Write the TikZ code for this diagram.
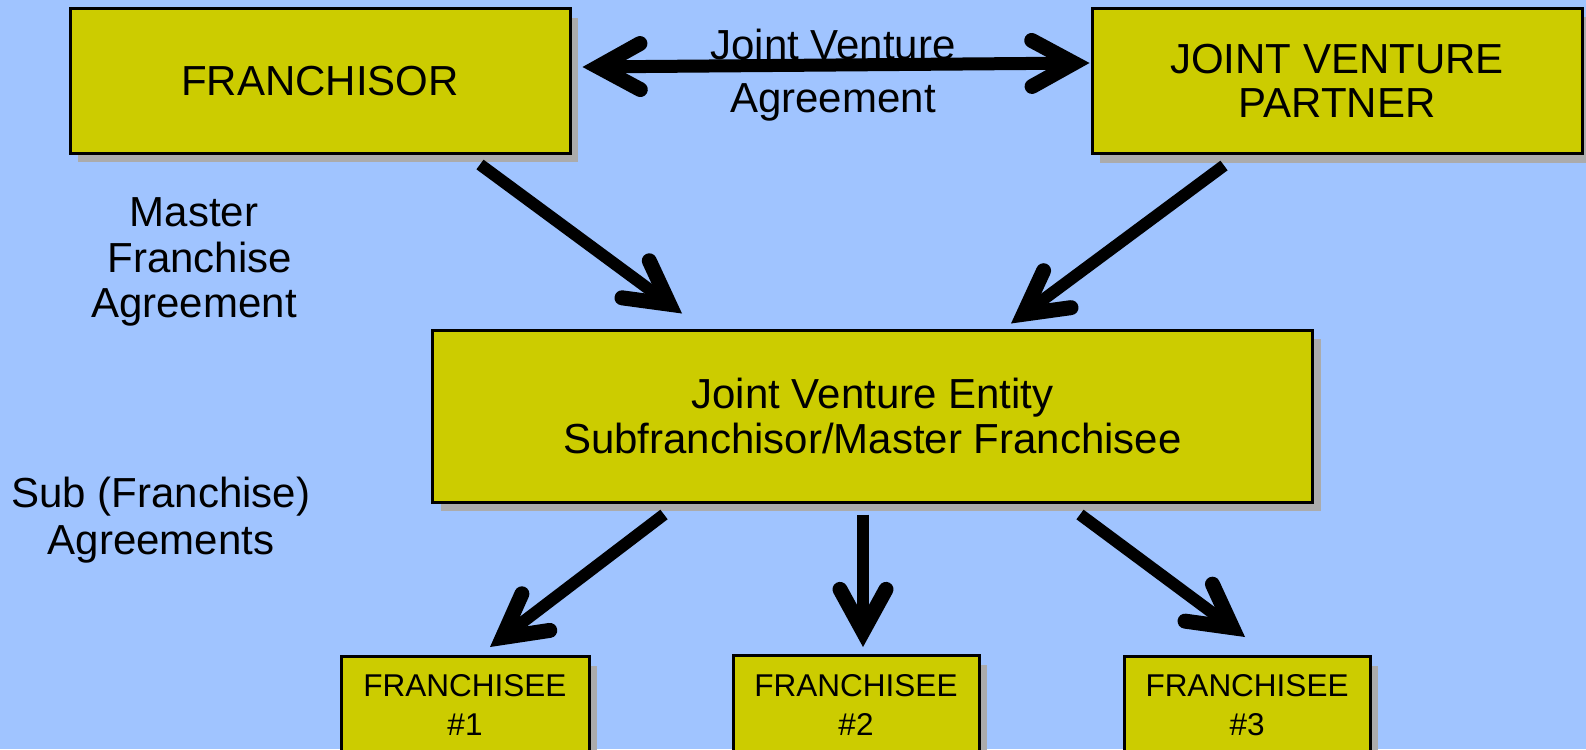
\documentclass[tikz,border=0pt]{standalone}
\usepackage{fontspec}
\setmainfont{Liberation Sans}
\usetikzlibrary{arrows.meta,shadows,calc}
\definecolor{bg}{HTML}{A0C4FF}
\definecolor{boxfill}{HTML}{CCCC00}
\definecolor{shade}{HTML}{ABABAB}
\begin{document}
\begin{tikzpicture}[x=1pt,y=-1pt,
  box/.style={draw=black, line width=3pt, fill=boxfill, inner sep=0pt, align=center,
    font=\fontsize{42}{44}\selectfont,
    drop shadow={shadow xshift=8pt, shadow yshift=-9pt, fill=shade, opacity=1}},
  lbl/.style={align=center, inner sep=0pt},
  tip/.tip={Straight Barb[length=42pt, width=46pt, line width=15pt, line cap=round, line join=miter]},
  arr/.style={line width=12pt, -tip},
  darr/.style={line width=13pt, tip-tip}]
\useasboundingbox (0,0) rectangle (1586,749);
\clip (0,0) rectangle (1586,749);
\fill[bg] (0,0) rectangle (1586,749);

% boxes
\node[box, minimum width=500pt, minimum height=144pt] (fr) at (320,81) {FRANCHISOR};
\node[box, minimum width=490pt, minimum height=145pt] (jv) at (1337,81) {JOINT VENTURE\\PARTNER};
\node[box, minimum width=880pt, minimum height=172pt, font=\fontsize{42}{45}\selectfont] (mid) at (872.5,416) {Joint Venture Entity\\Subfranchisor/Master Franchisee};
\node[box, minimum width=248pt, minimum height=140pt, anchor=north] (f1) at (465,655) {};
\node[box, minimum width=246pt, minimum height=140pt, anchor=north] (f2) at (856,654) {};
\node[box, minimum width=246pt, minimum height=140pt, anchor=north] (f3) at (1247,655) {};

% franchisee texts
\tikzset{ftext/.style={lbl, font=\fontsize{31.5}{39}\selectfont}}
\node[ftext] (t1) at ($(f1.north)+(0,50)$) {FRANCHISEE\\\#1};
\node[ftext] (t2) at ($(f2.north)+(0,51)$) {FRANCHISEE\\\#2};
\node[ftext] (t3) at ($(f3.north)+(0,50)$) {FRANCHISEE\\\#3};

% labels
\node[lbl, font=\fontsize{42}{53}\selectfont] (jva) at (833,75) {Joint Venture\\Agreement};
\node[lbl, font=\fontsize{42}{45.5}\selectfont] (mfa) at (194,262) {Master\\\hspace*{0.278em}Franchise\\Agreement};
\node[lbl, font=\fontsize{42}{47}\selectfont] (sfa) at (161,520) {Sub (Franchise)\\Agreements};

% connectors
\draw[darr] ($(fr.east)+(11,-14)$) -- ($(jv.west)+(-1,-18)$);
\draw[arr] ($(fr.south)+(160,10)$) -- ($(mid.north)+(-190.5,-15)$);
\draw[arr] ($(jv.south)+(-113,10.5)$) -- ($(mid.north)+(138.5,-5)$);
\draw[arr] ($(mid.south)+(-208.5,11)$) -- ($(f1.north)+(25,-8)$);
\draw[arr] ($(mid.south)+(-9.5,11)$) -- ($(f2.north)+(7,-7)$);
\draw[arr] ($(mid.south)+(207.5,11)$) -- ($(f3.north)+(-2,-18)$);
\end{tikzpicture}
\end{document}
